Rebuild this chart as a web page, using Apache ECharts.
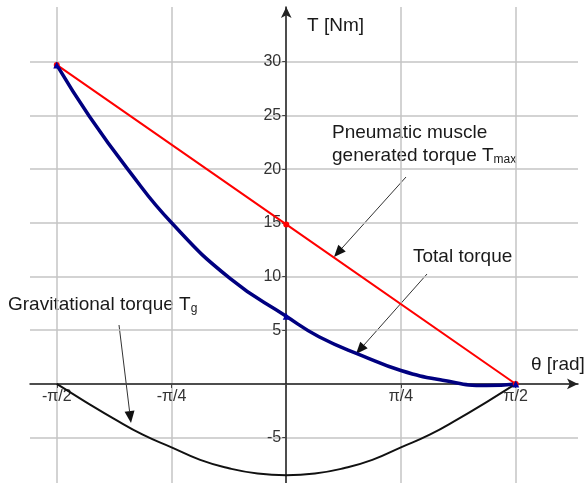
<!DOCTYPE html>
<html>
<head>
<meta charset="utf-8">
<script src="https://cdn.jsdelivr.net/npm/echarts@6/dist/echarts.min.js"></script>
<style>
html,body{margin:0;padding:0;background:#fff;}
#chart{width:587px;height:483px;}
</style>
</head>
<body>
<div id="chart"></div>
<script>
var PI = Math.PI;
// x tick positions (rad) and labels
var xTickValues = [-PI/2, -PI/4, PI/4, PI/2];
var xTickLabels = ['-π/2', '-π/4', 'π/4', 'π/2'];
var xGridValues = [-PI/2, -PI/4, 0, PI/4, PI/2];
var yGridValues = [-5, 0, 5, 10, 15, 20, 25, 30];
var yTickLabels = [-5, 5, 10, 15, 20, 25, 30];

// Pneumatic muscle generated torque Tmax
var tmaxTheta = [-PI/2, 0, PI/2];
var tmaxValues = [29.7, 14.85, 0];

// Total torque
var totalTheta = [-1.571, -1.347, -1.08, -0.785, -0.383, 0, 0.224, 0.526, 0.785, 1.07, 1.37, 1.571];
var totalValues = [29.7, 24.9, 19.9, 15.0, 9.8, 6.3, 4.4, 2.6, 1.25, 0.35, -0.15, 0];

// Gravitational torque Tg
var tgTheta = [-1.571, -1.374, -1.178, -0.982, -0.785, -0.589, -0.393, -0.196, 0, 0.196, 0.393, 0.589, 0.785, 0.982, 1.178, 1.374, 1.571];
var tgValues = [0, -1.66, -3.25, -4.72, -5.9, -7.07, -7.85, -8.34, -8.5, -8.34, -7.85, -7.07, -5.9, -4.72, -3.25, -1.66, 0];

function zip(a, b) { return a.map(function (v, i) { return [v, b[i]]; }); }

function arrow(x1, y1, x2, y2) {
  var dx = x2 - x1, dy = y2 - y1, L = Math.sqrt(dx*dx + dy*dy);
  var ux = dx / L, uy = dy / L, len = 12, w = 5;
  var bx = x2 - ux * len, by = y2 - uy * len;
  return [
    { type: 'line', shape: { x1: x1, y1: y1, x2: bx, y2: by }, style: { stroke: '#333', lineWidth: 1 } },
    { type: 'polygon', shape: { points: [[x2, y2], [bx - uy * w, by + ux * w], [bx + uy * w, by - ux * w]] }, style: { fill: '#111' } }
  ];
}

var font = '"Liberation Sans", Arial, sans-serif';
function txt(x, y, text, rich) {
  return { type: 'text', x: x, y: y, style: { text: text, fontFamily: font, fontSize: 19, fill: '#1a1a1a', verticalAlign: 'middle', rich: rich || {} } };
}
var subRich = { s: { fontSize: 12, fontFamily: font, fill: '#1a1a1a', verticalAlign: 'bottom', padding: [8, 0, 0, 0] } };

// layout
var W = 587, H = 483, gL = 30, gR = 9, gT = 7, gB = 0;
var xMin = -1.754, xMax = 1.997, yMin = -9.22, yMax = 35.09;
var yAxisPx = (0 - xMin) / (xMax - xMin) * (W - gL - gR);
var xAxisPx = (yMax - 0) / (yMax - yMin) * (H - gT - gB);
var yOffset = -yAxisPx;
var xOffset = -((H - gT - gB) - xAxisPx);

var chart = echarts.init(document.getElementById('chart'));
var option = {
  backgroundColor: '#fff',
  animation: false,
  grid: { left: gL, right: gR, top: gT, bottom: gB, containLabel: false, outerBoundsMode: 'none' },
  xAxis: {
    type: 'value', min: xMin, max: xMax, position: 'bottom', offset: xOffset,
    axisLine: { onZero: false, lineStyle: { color: '#222', width: 1.5 }, symbol: ['none', 'arrow'], symbolSize: [8, 11] },
    axisTick: { show: true, customValues: xGridValues, length: 4, lineStyle: { color: '#444' } },
    axisLabel: { customValues: xTickValues, fontSize: 16, color: '#333', fontFamily: font, margin: 5,
      formatter: function (v) { for (var i = 0; i < xTickValues.length; i++) { if (Math.abs(v - xTickValues[i]) < 1e-6) return xTickLabels[i]; } return ''; } },
    splitLine: { show: true, lineStyle: { color: '#c4c4c4', width: 1.5 } }
  },
  yAxis: {
    type: 'value', min: yMin, max: yMax, position: 'left', offset: yOffset,
    axisLine: { onZero: false, lineStyle: { color: '#222', width: 1.5 }, symbol: ['none', 'arrow'], symbolSize: [8, 11] },
    axisTick: { show: true, customValues: yGridValues, length: 4, lineStyle: { color: '#444' } },
    axisLabel: { customValues: yTickLabels, fontSize: 16, color: '#333', fontFamily: font, margin: 5 },
    splitLine: { show: true, lineStyle: { color: '#c4c4c4', width: 1.5 } }
  },
  series: [
    { name: 'Gravitational torque', type: 'line', smooth: true, data: zip(tgTheta, tgValues), symbol: 'none',
      lineStyle: { color: '#111', width: 2 } },
    { name: 'Tmax', type: 'line', data: zip(tmaxTheta, tmaxValues), symbol: 'circle', symbolSize: 6,
      itemStyle: { color: '#ff0000' }, lineStyle: { color: '#ff0000', width: 2 } },
    { name: 'Total torque', type: 'line', smooth: 0.5, data: zip(totalTheta, totalValues),
      symbol: function (v) { return (Math.abs(v[0]) < 1e-6 || Math.abs(Math.abs(v[0]) - 1.571) < 1e-3) ? 'triangle' : 'none'; },
      symbolSize: 7, showAllSymbol: true,
      itemStyle: { color: '#0000a0' }, lineStyle: { color: '#000080', width: 3.5 } }
  ],
  graphic: [].concat(
    [txt(307, 26, 'T [Nm]'),
     txt(531, 365, 'θ [rad]'),
     txt(332, 133, 'Pneumatic muscle'),
     txt(332, 156, 'generated torque T{s|max}', subRich),
     txt(413, 257, 'Total torque'),
     txt(8, 305, 'Gravitational torque T{s|g}', subRich)],
    arrow(406, 177, 334, 257),
    arrow(427, 274, 356, 354),
    arrow(119, 325, 131, 423)
  )
};
chart.setOption(option);
</script>
</body>
</html>
